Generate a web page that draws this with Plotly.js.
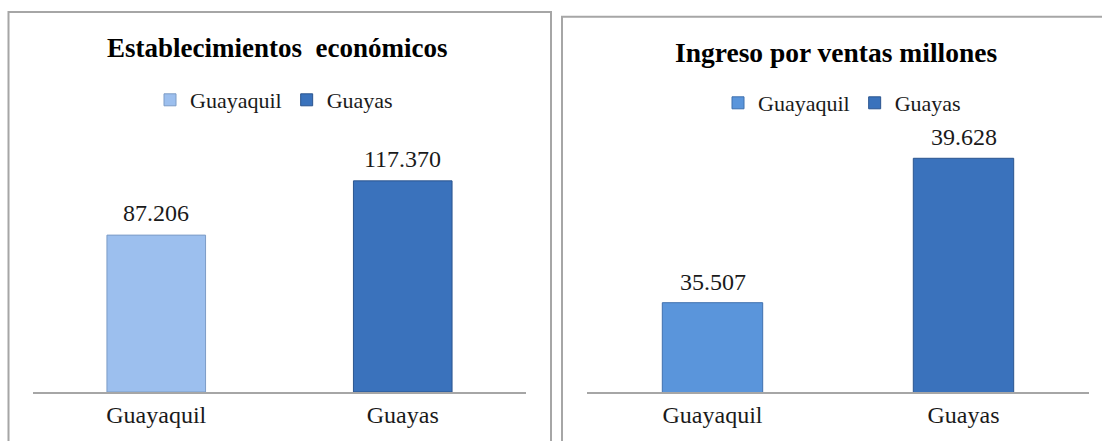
<!DOCTYPE html>
<html>
<head>
<meta charset="utf-8">
<script src="https://cdn.plot.ly/plotly-3.0.1.min.js"></script>
<style>
  html, body { margin: 0; padding: 0; background: #ffffff; }
  #chart { width: 1102px; height: 441px; }
</style>
</head>
<body>
<div id="chart"></div>
<script>
// ---- data ----
const categories = ["Guayaquil", "Guayas"];
const establecimientos = [87.206, 117.370];
const ingresos = [35.507, 39.628];
const establecimientosLabels = ["87.206", "117.370"];
const ingresosLabels = ["35.507", "39.628"];
const titleLeft = "Establecimientos  económicos";
const titleRight = "Ingreso por ventas millones";

// ---- styles ----
const serif = "Liberation Serif";
const leftColors = ["#9CBFEE", "#3A72BC"];
const leftLines = ["#7C9CC6", "#2B558F"];
const rightColors = ["#5A95DB", "#3A72BC"];
const rightLines = ["#3F70AE", "#2B558F"];

const traces = [];
categories.forEach((c, i) => {
  traces.push({
    type: "bar", x: [c], y: [establecimientos[i]], name: c,
    xaxis: "x", yaxis: "y", legend: "legend",
    marker: { color: leftColors[i], line: { color: leftLines[i], width: 1 } },
    hoverinfo: "skip"
  });
});
categories.forEach((c, i) => {
  traces.push({
    type: "bar", x: [c], y: [ingresos[i]], name: c,
    xaxis: "x2", yaxis: "y2", legend: "legend2",
    marker: { color: rightColors[i], line: { color: rightLines[i], width: 1 } },
    hoverinfo: "skip"
  });
});

const H = 441, W = 1102;
const py = v => 1 - v / H;
const px = v => v / W;

const annotations = [];
categories.forEach((c, i) => {
  annotations.push({ xref: "x", yref: "y", x: c, y: establecimientos[i], text: establecimientosLabels[i],
    showarrow: false, yanchor: "middle", yshift: 22, font: { family: serif, size: 24, color: "#1a1a1a" } });
  annotations.push({ xref: "x2", yref: "y2", x: c, y: ingresos[i], text: ingresosLabels[i],
    showarrow: false, yanchor: "middle", yshift: 21, font: { family: serif, size: 24, color: "#1a1a1a" } });
});
annotations.push({ xref: "paper", yref: "paper", x: px(277), y: py(48), text: "<b>" + titleLeft + "</b>",
  showarrow: false, xanchor: "center", yanchor: "middle", font: { family: serif, size: 27, color: "#000" } });
annotations.push({ xref: "paper", yref: "paper", x: px(836), y: py(53), text: "<b>" + titleRight + "</b>",
  showarrow: false, xanchor: "center", yanchor: "middle", font: { family: serif, size: 27.5, color: "#000" } });

const axisCommon = {
  type: "category", showline: true, linecolor: "#A6A6A6", linewidth: 2,
  showgrid: false, zeroline: false, ticks: "", ticklabelstandoff: 0,
  tickfont: { family: serif, size: 24, color: "#1a1a1a" }, fixedrange: true
};
const yCommon = { visible: false, showgrid: false, zeroline: false, fixedrange: true };

const layout = {
  width: W, height: H,
  margin: { l: 0, r: 0, t: 0, b: 0 },
  paper_bgcolor: "#ffffff", plot_bgcolor: "rgba(0,0,0,0)",
  barmode: "overlay", bargap: 0.6,
  showlegend: true,
  xaxis: Object.assign({}, axisCommon, { domain: [px(33), px(526)], anchor: "y" }),
  yaxis: Object.assign({}, yCommon, { domain: [py(392), py(140)], range: [0, 140.08], anchor: "x" }),
  xaxis2: Object.assign({}, axisCommon, { domain: [px(587), px(1089)], anchor: "y2" }),
  yaxis2: Object.assign({}, yCommon, { domain: [py(392), py(140)], range: [32.958, 40.15], anchor: "x2" }),
  legend: { orientation: "h", x: px(274), y: py(100), xanchor: "center", yanchor: "middle",
    font: { family: serif, size: 22, color: "#1a1a1a" }, itemwidth: 30, bgcolor: "rgba(0,0,0,0)", traceorder: "normal" },
  legend2: { orientation: "h", x: px(842), y: py(103), xanchor: "center", yanchor: "middle",
    font: { family: serif, size: 22, color: "#1a1a1a" }, itemwidth: 30, bgcolor: "rgba(0,0,0,0)", traceorder: "normal" },
  annotations: annotations,
  shapes: [
    { type: "rect", xref: "paper", yref: "paper", x0: px(8.5), x1: px(551), y0: py(446), y1: py(12),
      line: { color: "#A6A6A6", width: 2 }, fillcolor: "rgba(0,0,0,0)", layer: "below" },
    { type: "rect", xref: "paper", yref: "paper", x0: px(562), x1: px(1106), y0: py(446), y1: py(16.7),
      line: { color: "#A6A6A6", width: 2 }, fillcolor: "rgba(0,0,0,0)", layer: "below" }
  ]
};

Plotly.newPlot("chart", traces, layout, { displayModeBar: false, staticPlot: true });
</script>
</body>
</html>
